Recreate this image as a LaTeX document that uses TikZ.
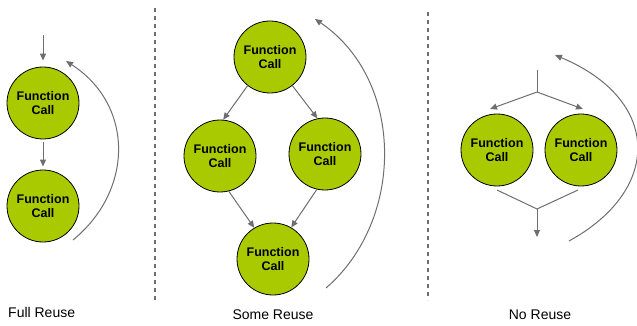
\documentclass[tikz,border=0pt]{standalone}
\usepackage{fontspec}
\setmainfont{Liberation Sans}
\usetikzlibrary{arrows.meta}
\definecolor{callgreen}{RGB}{170,202,0}
\definecolor{flowgray}{RGB}{110,110,110}
\tikzset{
  fcall/.style={circle, draw=black, line width=0.8pt, fill=callgreen,
    minimum size=72pt, inner sep=0pt, align=center,
    font=\bfseries\fontsize{12.5}{14}\selectfont},
  flow/.style={draw=flowgray, line width=1pt,
    -{Triangle[length=7pt,width=6pt]}},
  plainflow/.style={draw=flowgray, line width=1pt},
  divider/.style={draw=flowgray, line width=1.2pt, dash pattern=on 4pt off 4pt},
  caption/.style={font=\fontsize{14}{16}\selectfont, inner sep=0pt}
}
\begin{document}
\begin{tikzpicture}[x=1pt, y=-1pt]
\useasboundingbox (0,0) rectangle (637,326);
\clip (0,0) rectangle (637,326);

% dividers between the three cases
\coordinate (d1a) at (155,8);  \coordinate (d1b) at (155,300);
\coordinate (d2a) at (428,12); \coordinate (d2b) at (428,300);
\draw[divider] (d1a) -- (d1b);
\draw[divider] (d2a) -- (d2b);

% ---------- full reuse ----------
\node[fcall] (fa) at (43,103) {Function\\Call};
\node[fcall] (fb) at (43,206) {Function\\Call};
\coordinate (fin) at (43,35);
\draw[flow, shorten >=6pt] (fin) -- (fa.north);
\draw[flow, shorten <=3pt, shorten >=3pt] (fa.south) -- (fb.north);
\coordinate (floopa) at (73,240);
\coordinate (floopb) at (66,61);
\draw[flow] (floopa) .. controls (134,190) and (134,105) .. (floopb);
\node[caption, anchor=base west] (fcap) at (8,317) {Full Reuse};

% ---------- some reuse ----------
\node[fcall] (st) at (270,57)  {Function\\Call};
\node[fcall] (sl) at (220,156) {Function\\Call};
\node[fcall] (sr) at (325,154) {Function\\Call};
\node[fcall] (sb) at (273,259) {Function\\Call};
\draw[flow] (st.232) -- (sl.85);
\draw[flow] (st.308) -- (sr.102);
\draw[flow] (sl.284) -- (sb.121);
\draw[flow] (sr.257) -- (sb.60);
\coordinate (sloopa) at (326,288);
\coordinate (sloopb) at (315,19);
\draw[flow] (sloopa) .. controls (405,220) and (405,80) .. (sloopb);
\node[caption, anchor=base] (scap) at (273,319) {Some Reuse};

% ---------- no reuse ----------
\node[fcall] (nl) at (497,150) {Function\\Call};
\node[fcall] (nr) at (581,150) {Function\\Call};
\coordinate (nin)   at (537,70);
\coordinate (nfork) at (537,92);
\coordinate (nla)   at (490,109);
\coordinate (nra)   at (583,109);
\coordinate (nlb)   at (497,190);
\coordinate (nrb)   at (578,190);
\coordinate (njoin) at (537,209);
\coordinate (nout)  at (537,237);
\draw[plainflow] (nin) -- (nfork);
\draw[flow] (nfork) -- (nla);
\draw[flow] (nfork) -- (nra);
\draw[plainflow] (nlb) -- (njoin) -- (nrb);
\draw[flow] (njoin) -- (nout);
\coordinate (nloopa) at (569,241);
\coordinate (nloopb) at (555,55);
\draw[flow] (nloopa) .. controls (662,190) and (662,100) .. (nloopb);
\node[caption, anchor=base] (ncap) at (540,319) {No Reuse};
\end{tikzpicture}
\end{document}
